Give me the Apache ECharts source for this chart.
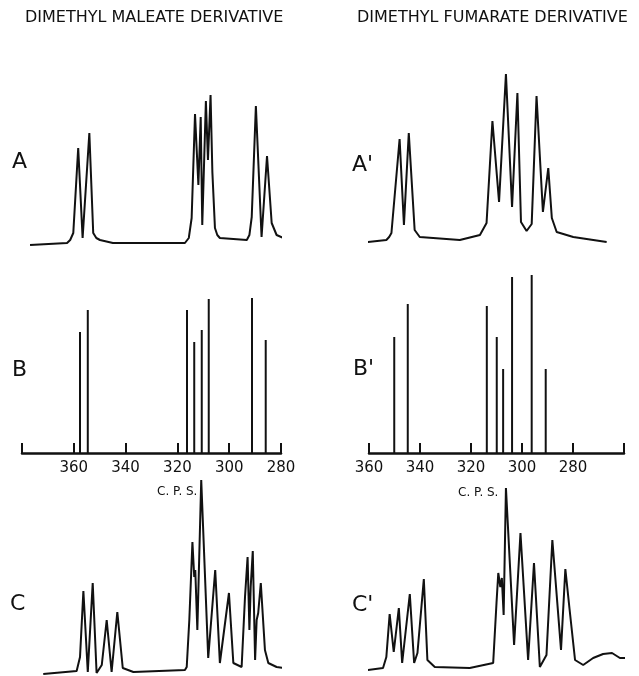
<!DOCTYPE html>
<html>
<head>
<meta charset="utf-8">
<script src="https://cdn.jsdelivr.net/npm/echarts@6/dist/echarts.min.js"></script>
<style>
  html, body { margin: 0; padding: 0; background: #fff; }
  #chart { width: 639px; height: 676px; }
</style>
</head>
<body>
<div id="chart"></div>
<script>
// spectra: [c.p.s., intensity]
const spectrumA = [
  [376.9, 5], [362.6, 7], [361.4, 10], [360.2, 17], [358.3, 102], [356.6, 12], [354.0, 117],
  [352.5, 17], [351.3, 12], [349.9, 10], [344.9, 7], [317.1, 7], [315.6, 12], [314.5, 32], [313.2, 136],
  [311.9, 65], [311.0, 133], [310.4, 25], [309.0, 149], [308.2, 90], [307.2, 155],
  [306.5, 78], [305.5, 22], [304.6, 15], [303.6, 12], [293.2, 10], [292.2, 15], [291.3, 33], [289.7, 144],
  [287.5, 13], [285.4, 94], [283.6, 27], [281.7, 15], [279.1, 12], [271.6, 7]
];
const spectrumA2 = [
  [363.7, 7], [353.2, 10], [352.1, 13], [351.2, 17], [348.0, 111], [346.3, 25], [344.4, 117],
  [342.1, 20], [340.1, 13], [324.4, 10], [316.5, 15], [313.9, 27], [311.6, 129],
  [309.0, 48], [306.3, 176], [303.9, 43], [301.8, 157], [300.4, 28], [298.2, 19],
  [296.2, 26], [294.3, 154], [291.8, 38], [289.7, 82], [288.3, 32], [286.4, 18],
  [279.9, 13], [266.8, 8]
];
const linesB = [
  [357.6, 121], [354.6, 143], [316.3, 143], [313.5, 111],
  [310.6, 123], [307.9, 154], [291.2, 155], [285.9, 113]
];
const linesB2 = [
  [350.1, 116], [344.8, 149], [313.8, 147], [309.9, 116],
  [307.4, 84], [303.9, 176], [296.2, 178], [290.7, 84]
];
const spectrumC = [
  [371.8, 2], [358.9, 5], [357.6, 19], [356.3, 85], [354.6, 4], [352.7, 93],
  [351.2, 3], [349.2, 11], [347.3, 56], [345.4, 4], [343.2, 64], [341.1, 8],
  [337.0, 4], [317.1, 6], [316.4, 9], [315.4, 56], [314.2, 134], [313.5, 99],
  [313.1, 106], [312.3, 46], [310.8, 196], [308.1, 18], [305.4, 106], [303.6, 13],
  [300.1, 83], [298.4, 13], [295.2, 9], [293.9, 79], [292.9, 119], [292.2, 46],
  [291.7, 89], [290.9, 125], [290.0, 16], [289.4, 56], [288.8, 63], [287.8, 93],
  [286.2, 26], [284.9, 13], [281.7, 9], [276.5, 7], [266.2, 6]
];
const spectrumC2 = [
  [366.3, 4], [354.5, 8], [353.2, 19], [351.9, 62], [350.3, 24], [348.3, 68],
  [347.0, 13], [344.0, 82], [342.3, 13], [341.0, 23], [338.5, 97], [337.1, 16],
  [334.2, 9], [320.5, 8], [311.3, 13], [310.0, 73], [309.3, 103], [308.5, 89],
  [307.9, 98], [307.2, 61], [306.3, 188], [303.1, 31], [300.6, 143], [297.6, 16],
  [295.3, 113], [293.0, 9], [290.4, 21], [288.1, 136], [284.7, 26], [283.0, 107],
  [281.4, 68], [279.2, 16], [276.0, 11], [272.1, 18], [268.2, 22], [264.7, 23],
  [261.6, 18], [258.8, 18], [254.1, 26]
];
const ticksLeft = [380, 280];   // axis ends, maleate (380 has no label)
const ticksRight = [360, 260];  // axis ends, fumarate (260 has no label)
const titles = ['DIMETHYL MALEATE DERIVATIVE', 'DIMETHYL FUMARATE DERIVATIVE'];
const panelLabels = ['A', "A'", 'B', "B'", 'C', "C'"];

const ink = '#111';
const chart = echarts.init(document.getElementById('chart'));

const leftPos = { left: 22, right: 358 };
const rightPos = { left: 369, right: 15 };
const grids = [
  Object.assign({ top: 50, bottom: 426 }, leftPos),
  Object.assign({ top: 50, bottom: 426 }, rightPos),
  Object.assign({ top: 253, bottom: 223 }, leftPos),
  Object.assign({ top: 253, bottom: 223 }, rightPos),
  Object.assign({ top: 476, bottom: 0 }, leftPos),
  Object.assign({ top: 476, bottom: 0 }, rightPos)
];

function xAxisFor(i) {
  const range = i % 2 === 0 ? ticksLeft : ticksRight;
  const hidden = i % 2 === 0 ? ticksLeft[0] : ticksRight[1];
  const isStick = i === 2 || i === 3;
  return {
    gridIndex: i,
    type: 'value',
    inverse: true,
    min: range[1],
    max: range[0],
    interval: 20,
    show: isStick,
    axisLine: { show: true, onZero: false, lineStyle: { color: ink, width: 2.5 } },
    axisTick: { show: true, inside: true, length: 10, lineStyle: { color: ink, width: 2 } },
    axisLabel: {
      show: true,
      color: ink,
      fontFamily: 'DejaVu Sans',
      fontSize: 15,
      margin: 8,
      formatter: v => (v === hidden ? '' : String(v))
    },
    splitLine: { show: false }
  };
}

function yAxisFor(i) {
  return { gridIndex: i, type: 'value', min: 0, max: 200, show: false };
}

function curve(i, data) {
  return {
    type: 'line',
    xAxisIndex: i,
    yAxisIndex: i,
    data: data,
    symbol: 'none',
    clip: false,
    lineStyle: { color: ink, width: 2 }
  };
}

function sticks(i, data) {
  return {
    type: 'bar',
    xAxisIndex: i,
    yAxisIndex: i,
    data: data,
    barWidth: 2,
    itemStyle: { color: ink }
  };
}

const labelPos = [[12, 162], [352, 165], [12, 370], [353, 369], [10, 604], [352, 605]];

const graphics = [
  { type: 'text', left: 25, top: 10, style: { text: titles[0], fill: ink, font: '16px "DejaVu Sans"' } },
  { type: 'text', left: 357, top: 10, style: { text: titles[1], fill: ink, font: '16px "DejaVu Sans"' } },
  { type: 'text', left: 157, top: 486, style: { text: 'C. P. S.', fill: ink, font: '12px "DejaVu Sans"' } },
  { type: 'text', left: 458, top: 487, style: { text: 'C. P. S.', fill: ink, font: '12px "DejaVu Sans"' } }
];
panelLabels.forEach((t, k) => {
  graphics.push({
    type: 'text', left: labelPos[k][0], top: labelPos[k][1] - 11,
    style: { text: t, fill: ink, font: '22px "DejaVu Sans"' }
  });
});

chart.setOption({
  animation: false,
  backgroundColor: '#fff',
  grid: grids,
  xAxis: [0, 1, 2, 3, 4, 5].map(xAxisFor),
  yAxis: [0, 1, 2, 3, 4, 5].map(yAxisFor),
  graphic: graphics,
  series: [
    curve(0, spectrumA),
    curve(1, spectrumA2),
    sticks(2, linesB),
    sticks(3, linesB2),
    curve(4, spectrumC),
    curve(5, spectrumC2)
  ]
});
</script>
</body>
</html>
